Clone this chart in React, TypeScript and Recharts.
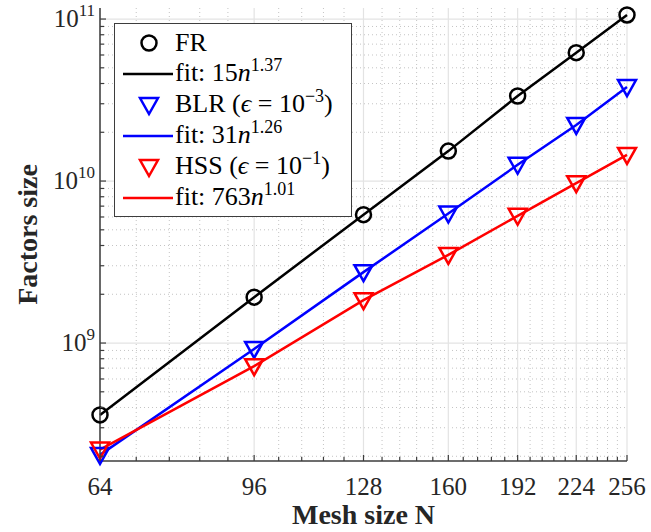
import React from "react";
import {
  LineChart,
  Line,
  XAxis,
  YAxis,
  CartesianGrid,
  Legend,
} from "recharts";

// mesh sizes N (x axis)
const meshSizes = [64, 96, 128, 160, 192, 224, 256];

// factor sizes
const frSize = [3.6e8, 1.92e9, 6.2e9, 1.53e10, 3.35e10, 6.2e10, 1.06e11];
const blrSize = [2.04e8, 9.2e8, 2.74e9, 6.3e9, 1.26e10, 2.22e10, 3.8e10];
const hssSize = [2.2e8, 7.2e8, 1.84e9, 3.5e9, 6.1e9, 9.7e9, 1.45e10];

// axis ticks
const xMajorTicks = [64, 96, 128, 160, 192, 224, 256];
const xMinorTicks = [
  70.4, 76.8, 83.2, 89.6, 102.4, 108.8, 115.2, 121.6, 134.4, 140.8, 147.2,
  153.6, 166.4, 172.8, 179.2, 185.6, 198.4, 204.8, 211.2, 217.6, 230.4, 236.8,
  243.2, 249.6,
];
const yMajorTicks = [1e9, 1e10, 1e11];
const yMinorTicks = [
  2e8, 3e8, 4e8, 5e8, 6e8, 7e8, 8e8, 9e8, 2e9, 3e9, 4e9, 5e9, 6e9, 7e9, 8e9,
  9e9, 2e10, 3e10, 4e10, 5e10, 6e10, 7e10, 8e10, 9e10,
];
const xDomain = [64, 256];
const yDomain = [1.87e8, 1.17e11];

const data = meshSizes.map((n, i) => ({
  n,
  fr: frSize[i],
  blr: blrSize[i],
  hss: hssSize[i],
}));

const FONT = "'Liberation Serif', 'Times New Roman', serif";
const TEXT = "#262626";
const AXIS = "#3d3d3d";

const isMajorX = (v: number) => xMajorTicks.includes(v);
const isMajorY = (v: number) => yMajorTicks.some((t) => Math.abs(t - v) / t < 1e-6);

const CircleDot = (props: any) => {
  const { cx, cy, stroke } = props;
  if (cx == null || cy == null) return null;
  return <circle cx={cx} cy={cy} r={7.5} fill="none" stroke={stroke} strokeWidth={2.5} />;
};

const TriangleDot = (props: any) => {
  const { cx, cy, stroke } = props;
  if (cx == null || cy == null) return null;
  return (
    <polygon
      points={`${cx - 9},${cy - 7} ${cx + 9},${cy - 7} ${cx},${cy + 9}`}
      fill="none"
      stroke={stroke}
      strokeWidth={2.5}
    />
  );
};

// bottom axis: inward tick mark + label
const BottomTick = (p: any) => {
  const v = p.payload.value;
  const major = isMajorX(v);
  return (
    <g>
      <line x1={p.x} y1={p.y} x2={p.x} y2={p.y - (major ? 6 : 4)} stroke={AXIS} strokeWidth={1.2} />
      {major && (
        <text x={p.x} y={p.y + 34} textAnchor="middle" fontFamily={FONT} fontSize={25} fill={TEXT}>
          {v}
        </text>
      )}
    </g>
  );
};

const TopTick = (p: any) => {
  const major = isMajorX(p.payload.value);
  return <line x1={p.x} y1={p.y} x2={p.x} y2={p.y + (major ? 6 : 4)} stroke={AXIS} strokeWidth={1.2} />;
};

const LeftTick = (p: any) => {
  const v = p.payload.value;
  const major = isMajorY(v);
  const exp = Math.round(Math.log10(v));
  return (
    <g>
      <line x1={p.x} y1={p.y} x2={p.x + (major ? 6 : 4)} y2={p.y} stroke={AXIS} strokeWidth={1.2} />
      {major && (
        <text x={p.x - 5} y={p.y + 8} textAnchor="end" fontFamily={FONT} fontSize={25} fill={TEXT}>
          10
          <tspan dy={-11} fontSize={17}>
            {exp}
          </tspan>
        </text>
      )}
    </g>
  );
};

const RightTick = (p: any) => {
  const major = isMajorY(p.payload.value);
  return <line x1={p.x} y1={p.y} x2={p.x - (major ? 6 : 4)} y2={p.y} stroke={AXIS} strokeWidth={1.2} />;
};

const sup = { fontSize: 18, verticalAlign: "baseline", position: "relative" as const, top: -10 };

const legendRows = [
  { kind: "circle", color: "#000000", label: <>FR</> },
  {
    kind: "line",
    color: "#000000",
    label: (
      <>
        fit: 15<i>n</i>
        <span style={sup}>1.37</span>
      </>
    ),
  },
  {
    kind: "tri",
    color: "#0000ff",
    label: (
      <>
        BLR (<i>ϵ</i> = 10<span style={sup}>−3</span>)
      </>
    ),
  },
  {
    kind: "line",
    color: "#0000ff",
    label: (
      <>
        fit: 31<i>n</i>
        <span style={sup}>1.26</span>
      </>
    ),
  },
  {
    kind: "tri",
    color: "#ff0000",
    label: (
      <>
        HSS (<i>ϵ</i> = 10<span style={sup}>−1</span>)
      </>
    ),
  },
  {
    kind: "line",
    color: "#ff0000",
    label: (
      <>
        fit: 763<i>n</i>
        <span style={sup}>1.01</span>
      </>
    ),
  },
];

const LegendBox = () => (
  <div
    style={{
      width: 238,
      height: 194,
      border: "1.5px solid #3d3d3d",
      background: "#fff",
      boxSizing: "border-box",
      paddingTop: 3,
      fontFamily: FONT,
      fontSize: 26,
      color: "#000",
    }}
  >
    {legendRows.map((r, i) => (
      <div key={i} style={{ display: "flex", alignItems: "center", height: 31, lineHeight: "31px" }}>
        <svg width={60} height={31} style={{ flex: "none" }}>
          {r.kind === "circle" && (
            <circle cx={34} cy={16} r={7.5} fill="none" stroke={r.color} strokeWidth={2.5} />
          )}
          {r.kind === "tri" && (
            <polygon points="25,9 43,9 34,25" fill="none" stroke={r.color} strokeWidth={2.5} />
          )}
          {r.kind === "line" && <line x1={8} y1={16} x2={58} y2={16} stroke={r.color} strokeWidth={2.5} />}
        </svg>
        <span style={{ whiteSpace: "nowrap" }}>{r.label}</span>
      </div>
    ))}
  </div>
);

export default function App() {
  return (
    <div style={{ position: "absolute", left: 0, top: 0, width: 651, height: 532, background: "#fff" }}>
      <LineChart width={651} height={532} data={data} margin={{ top: 8, right: 24, left: 0, bottom: 0 }}>
        {/* minor grid, dotted */}
        <CartesianGrid
          verticalValues={xMinorTicks}
          horizontalValues={yMinorTicks}
          stroke="#c4c4c4"
          strokeDasharray="1 3"
          strokeWidth={1}
        />
        {/* major grid, solid */}
        <CartesianGrid
          verticalValues={xMajorTicks}
          horizontalValues={yMajorTicks}
          stroke="#e3e3e3"
          strokeWidth={1.2}
        />

        <XAxis
          dataKey="n"
          type="number"
          scale="log"
          domain={xDomain}
          ticks={[...xMajorTicks, ...xMinorTicks]}
          interval={0}
          height={71}
          tickSize={0}
          tickMargin={0}
          tickLine={false}
          axisLine={{ stroke: AXIS, strokeWidth: 1.5 }}
          tick={BottomTick}
          label={{
            content: (lp: any) => {
              const vb = lp.viewBox;
              return (
                <text
                  x={vb.x + vb.width / 2}
                  y={vb.y + 63}
                  textAnchor="middle"
                  fontFamily={FONT}
                  fontWeight="bold"
                  fontSize={28}
                  fill={TEXT}
                >
                  Mesh size N
                </text>
              );
            },
          }}
        />
        <XAxis
          xAxisId="top"
          orientation="top"
          dataKey="n"
          type="number"
          scale="log"
          domain={xDomain}
          ticks={[...xMajorTicks, ...xMinorTicks]}
          interval={0}
          height={0}
          tickSize={0}
          tickMargin={0}
          tickLine={false}
          axisLine={{ stroke: AXIS, strokeWidth: 1.5 }}
          tick={TopTick}
        />
        <YAxis
          type="number"
          scale="log"
          domain={yDomain}
          ticks={[...yMajorTicks, ...yMinorTicks]}
          interval={0}
          width={100}
          tickSize={0}
          tickMargin={0}
          tickLine={false}
          axisLine={{ stroke: AXIS, strokeWidth: 1.5 }}
          tick={LeftTick}
          label={{
            content: (lp: any) => {
              const vb = lp.viewBox;
              const cx = vb.x + 27;
              const cy = vb.y + vb.height / 2;
              return (
                <text
                  x={cx}
                  y={cy}
                  transform={`rotate(-90 ${cx} ${cy})`}
                  textAnchor="middle"
                  dominantBaseline="central"
                  fontFamily={FONT}
                  fontWeight="bold"
                  fontSize={28}
                  fill={TEXT}
                >
                  Factors size
                </text>
              );
            },
          }}
        />
        <YAxis
          yAxisId="right"
          orientation="right"
          type="number"
          scale="log"
          domain={yDomain}
          ticks={[...yMajorTicks, ...yMinorTicks]}
          interval={0}
          width={0}
          tickSize={0}
          tickMargin={0}
          tickLine={false}
          axisLine={{ stroke: AXIS, strokeWidth: 1.5 }}
          tick={RightTick}
        />

        <Legend
          content={() => <LegendBox />}
          layout="vertical"
          align="center"
          verticalAlign="middle"
          wrapperStyle={{ position: "absolute", left: 114, top: 23, width: 238 }}
        />

        <Line dataKey="fr" stroke="#000000" strokeWidth={2.5} dot={<CircleDot />} isAnimationActive={false} />
        <Line dataKey="blr" stroke="#0000ff" strokeWidth={2.5} dot={<TriangleDot />} isAnimationActive={false} />
        <Line dataKey="hss" stroke="#ff0000" strokeWidth={2.5} dot={<TriangleDot />} isAnimationActive={false} />
      </LineChart>
    </div>
  );
}
